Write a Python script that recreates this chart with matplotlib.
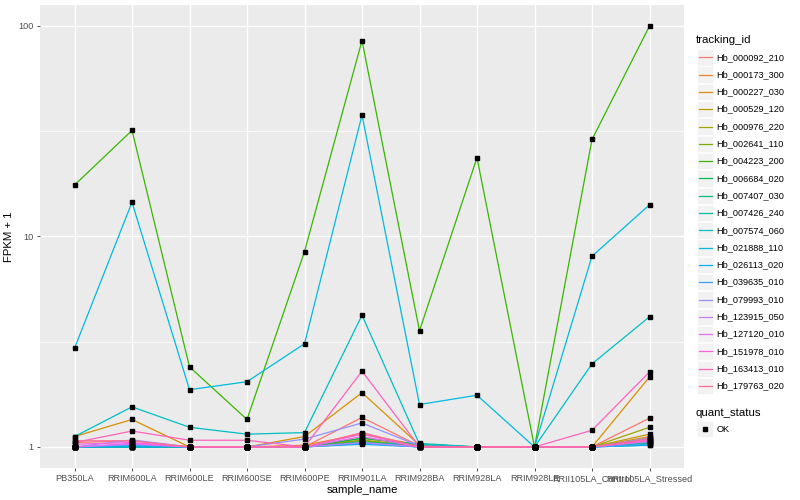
import matplotlib
matplotlib.use("Agg")
import matplotlib.pyplot as plt
import numpy as np
from matplotlib.patches import Rectangle
from matplotlib.lines import Line2D

plt.rcParams['font.family'] = ['Liberation Sans', 'DejaVu Sans']

samples = ["PB350LA", "RRIM600LA", "RRIM600LE", "RRIM600SE", "RRIM600PE",
           "RRIM901LA", "RRIM928BA", "RRIM928LA", "RRIM928LE",
           "RRII105LA_Control", "RRII105LA_Stressed"]

tracking_ids = ["Hb_000092_210", "Hb_000173_300", "Hb_000227_030", "Hb_000529_120",
                "Hb_000976_220", "Hb_002641_110", "Hb_004223_200", "Hb_006684_020",
                "Hb_007407_030", "Hb_007426_240", "Hb_007574_060", "Hb_021888_110",
                "Hb_026113_020", "Hb_039635_010", "Hb_079993_010", "Hb_123915_050",
                "Hb_127120_010", "Hb_151978_010", "Hb_163413_010", "Hb_179763_020"]

# FPKM + 1 per tracking id, in sample order
v_000092_210 = [1.05, 1.07, 1.00, 1.00, 1.00, 1.38, 1.01, 1.00, 1.00, 1.00, 1.37]
v_000173_300 = [1.00, 1.02, 1.00, 1.00, 1.02, 1.15, 1.02, 1.00, 1.00, 1.00, 1.12]
v_000227_030 = [1.12, 1.35, 1.00, 1.00, 1.12, 1.81, 1.02, 1.00, 1.00, 1.00, 2.15]
v_000529_120 = [1.00, 1.00, 1.00, 1.00, 1.00, 1.08, 1.01, 1.00, 1.00, 1.00, 1.15]
v_000976_220 = [1.00, 1.00, 1.00, 1.00, 1.00, 1.10, 1.02, 1.00, 1.00, 1.00, 1.24]
v_002641_110 = [1.00, 1.00, 1.00, 1.00, 1.00, 1.07, 1.01, 1.00, 1.00, 1.00, 1.10]
v_004223_200 = [17.5, 31.8, 2.40, 1.35, 8.46, 84.9, 3.56, 23.6, 1.00, 28.8, 99.5]
v_006684_020 = [1.00, 1.00, 1.00, 1.00, 1.00, 1.10, 1.03, 1.00, 1.00, 1.00, 1.05]
v_007407_030 = [1.00, 1.00, 1.00, 1.00, 1.00, 1.06, 1.00, 1.00, 1.00, 1.00, 1.04]
v_007426_240 = [1.00, 1.00, 1.00, 1.00, 1.00, 1.04, 1.04, 1.00, 1.00, 1.00, 1.02]
v_007574_060 = [1.12, 1.55, 1.24, 1.15, 1.17, 4.22, 1.03, 1.00, 1.00, 2.48, 4.15]
v_021888_110 = [2.94, 14.5, 1.87, 2.04, 3.09, 37.6, 1.59, 1.76, 1.00, 8.04, 14.1]
v_026113_020 = [1.00, 1.00, 1.00, 1.00, 1.00, 1.03, 1.00, 1.00, 1.00, 1.00, 1.02]
v_039635_010 = [1.00, 1.02, 1.00, 1.00, 1.00, 1.04, 1.00, 1.00, 1.00, 1.00, 1.03]
v_079993_010 = [1.00, 1.08, 1.00, 1.00, 1.09, 1.30, 1.01, 1.00, 1.00, 1.00, 1.10]
v_123915_050 = [1.00, 1.03, 1.00, 1.00, 1.00, 1.05, 1.00, 1.00, 1.00, 1.00, 1.06]
v_127120_010 = [1.00, 1.04, 1.00, 1.00, 1.00, 1.12, 1.00, 1.00, 1.00, 1.00, 1.08]
v_151978_010 = [1.03, 1.05, 1.00, 1.00, 1.00, 1.15, 1.00, 1.00, 1.00, 1.00, 1.07]
v_163413_010 = [1.05, 1.19, 1.076, 1.076, 1.00, 2.29, 1.00, 1.00, 1.00, 1.20, 2.27]
v_179763_020 = [1.07, 1.07, 1.00, 1.00, 1.00, 1.17, 1.00, 1.00, 1.00, 1.00, 1.09]

values = [v_000092_210, v_000173_300, v_000227_030, v_000529_120, v_000976_220,
          v_002641_110, v_004223_200, v_006684_020, v_007407_030, v_007426_240,
          v_007574_060, v_021888_110, v_026113_020, v_039635_010, v_079993_010,
          v_123915_050, v_127120_010, v_151978_010, v_163413_010, v_179763_020]

colors = ["#F8766D", "#EA8331", "#D89000", "#C09B00", "#A3A500", "#7CAE00", "#39B600",
          "#00BB4E", "#00BF7D", "#00C1A3", "#00BFC4", "#00BAE0", "#00B0F6", "#35A2FF",
          "#9590FF", "#C77CFF", "#E76BF3", "#FA62DB", "#FF62BC", "#FF6C91"]

fig = plt.figure(figsize=(8, 5), dpi=100)
ax = fig.add_axes([40/800, 1-468/500, (684-40)/800, (468-5)/500])
ax.set_facecolor("#EBEBEB")
for s in ax.spines.values():
    s.set_visible(False)

x = np.arange(len(samples))
for vals, c in zip(values, colors):
    ax.plot(x, vals, color=c, lw=0.9, zorder=3, solid_capstyle="butt")
for vals in values:
    ax.plot(x, vals, ls="none", marker="s", ms=2.8, color="black", zorder=4)

ax.set_yscale("log")
allv = np.concatenate([np.array(v) for v in values])
lo, hi = np.log10(allv.min()), np.log10(allv.max())
pad = 0.05 * (hi - lo)
ax.set_ylim(10**(lo - pad), 10**(hi + pad))
ax.set_xlim(-0.6, len(samples) - 1 + 0.6)

ax.set_yticks([1, 10, 100])
ax.set_yticklabels(["1", "10", "100"])
ax.yaxis.set_minor_locator(matplotlib.ticker.FixedLocator([10**0.5, 10**1.5]))
ax.yaxis.set_minor_formatter(matplotlib.ticker.NullFormatter())
ax.set_xticks(x)
ax.set_xticklabels(samples)
ax.grid(which="major", color="white", lw=1.0, zorder=0)
ax.grid(which="minor", axis="y", color="white", lw=0.5, zorder=0)
ax.set_axisbelow(True)
ax.tick_params(axis="both", which="major", length=2.5, width=0.6, color="#333333",
               labelcolor="#4D4D4D", labelsize=6.6, pad=2)
ax.tick_params(axis="y", which="minor", length=0)
ax.set_xlabel("sample_name", fontsize=8.2, color="black", labelpad=1.5)
ax.set_ylabel("FPKM + 1", fontsize=8.2, color="black", labelpad=3)

# legend drawn in figure pixel coordinates (ggplot style)
def fx(px):
    return px / 800
def fy(py):
    return 1 - py / 500

fig.text(fx(696), fy(40), "tracking_id", fontsize=8.2, va="center", ha="left")
y0, dy = 57.3, 17.3
for i, (tid, c) in enumerate(zip(tracking_ids, colors)):
    yc = y0 + i * dy
    fig.add_artist(Rectangle((fx(697), fy(yc + 8.2)), 16/800, 16.4/500,
                             facecolor="#F2F2F2", edgecolor="white", lw=0.5,
                             transform=fig.transFigure))
    fig.add_artist(Line2D([fx(698.5), fx(711.5)], [fy(yc), fy(yc)], color=c, lw=0.9,
                          transform=fig.transFigure))
    fig.text(fx(716.5), fy(yc), tid, fontsize=6.6, va="center", ha="left")

fig.text(fx(696), fy(413), "quant_status", fontsize=8.2, va="center", ha="left")
yc = 429
fig.add_artist(Rectangle((fx(697), fy(yc + 8.2)), 16/800, 16.4/500,
                         facecolor="#F2F2F2", edgecolor="white", lw=0.5,
                         transform=fig.transFigure))
fig.add_artist(Line2D([fx(705)], [fy(yc)], ls="none", marker="s", ms=2.8, color="black",
                      transform=fig.transFigure))
fig.text(fx(716.5), fy(yc), "OK", fontsize=6.6, va="center", ha="left")

fig.savefig("out.png", dpi=100)
